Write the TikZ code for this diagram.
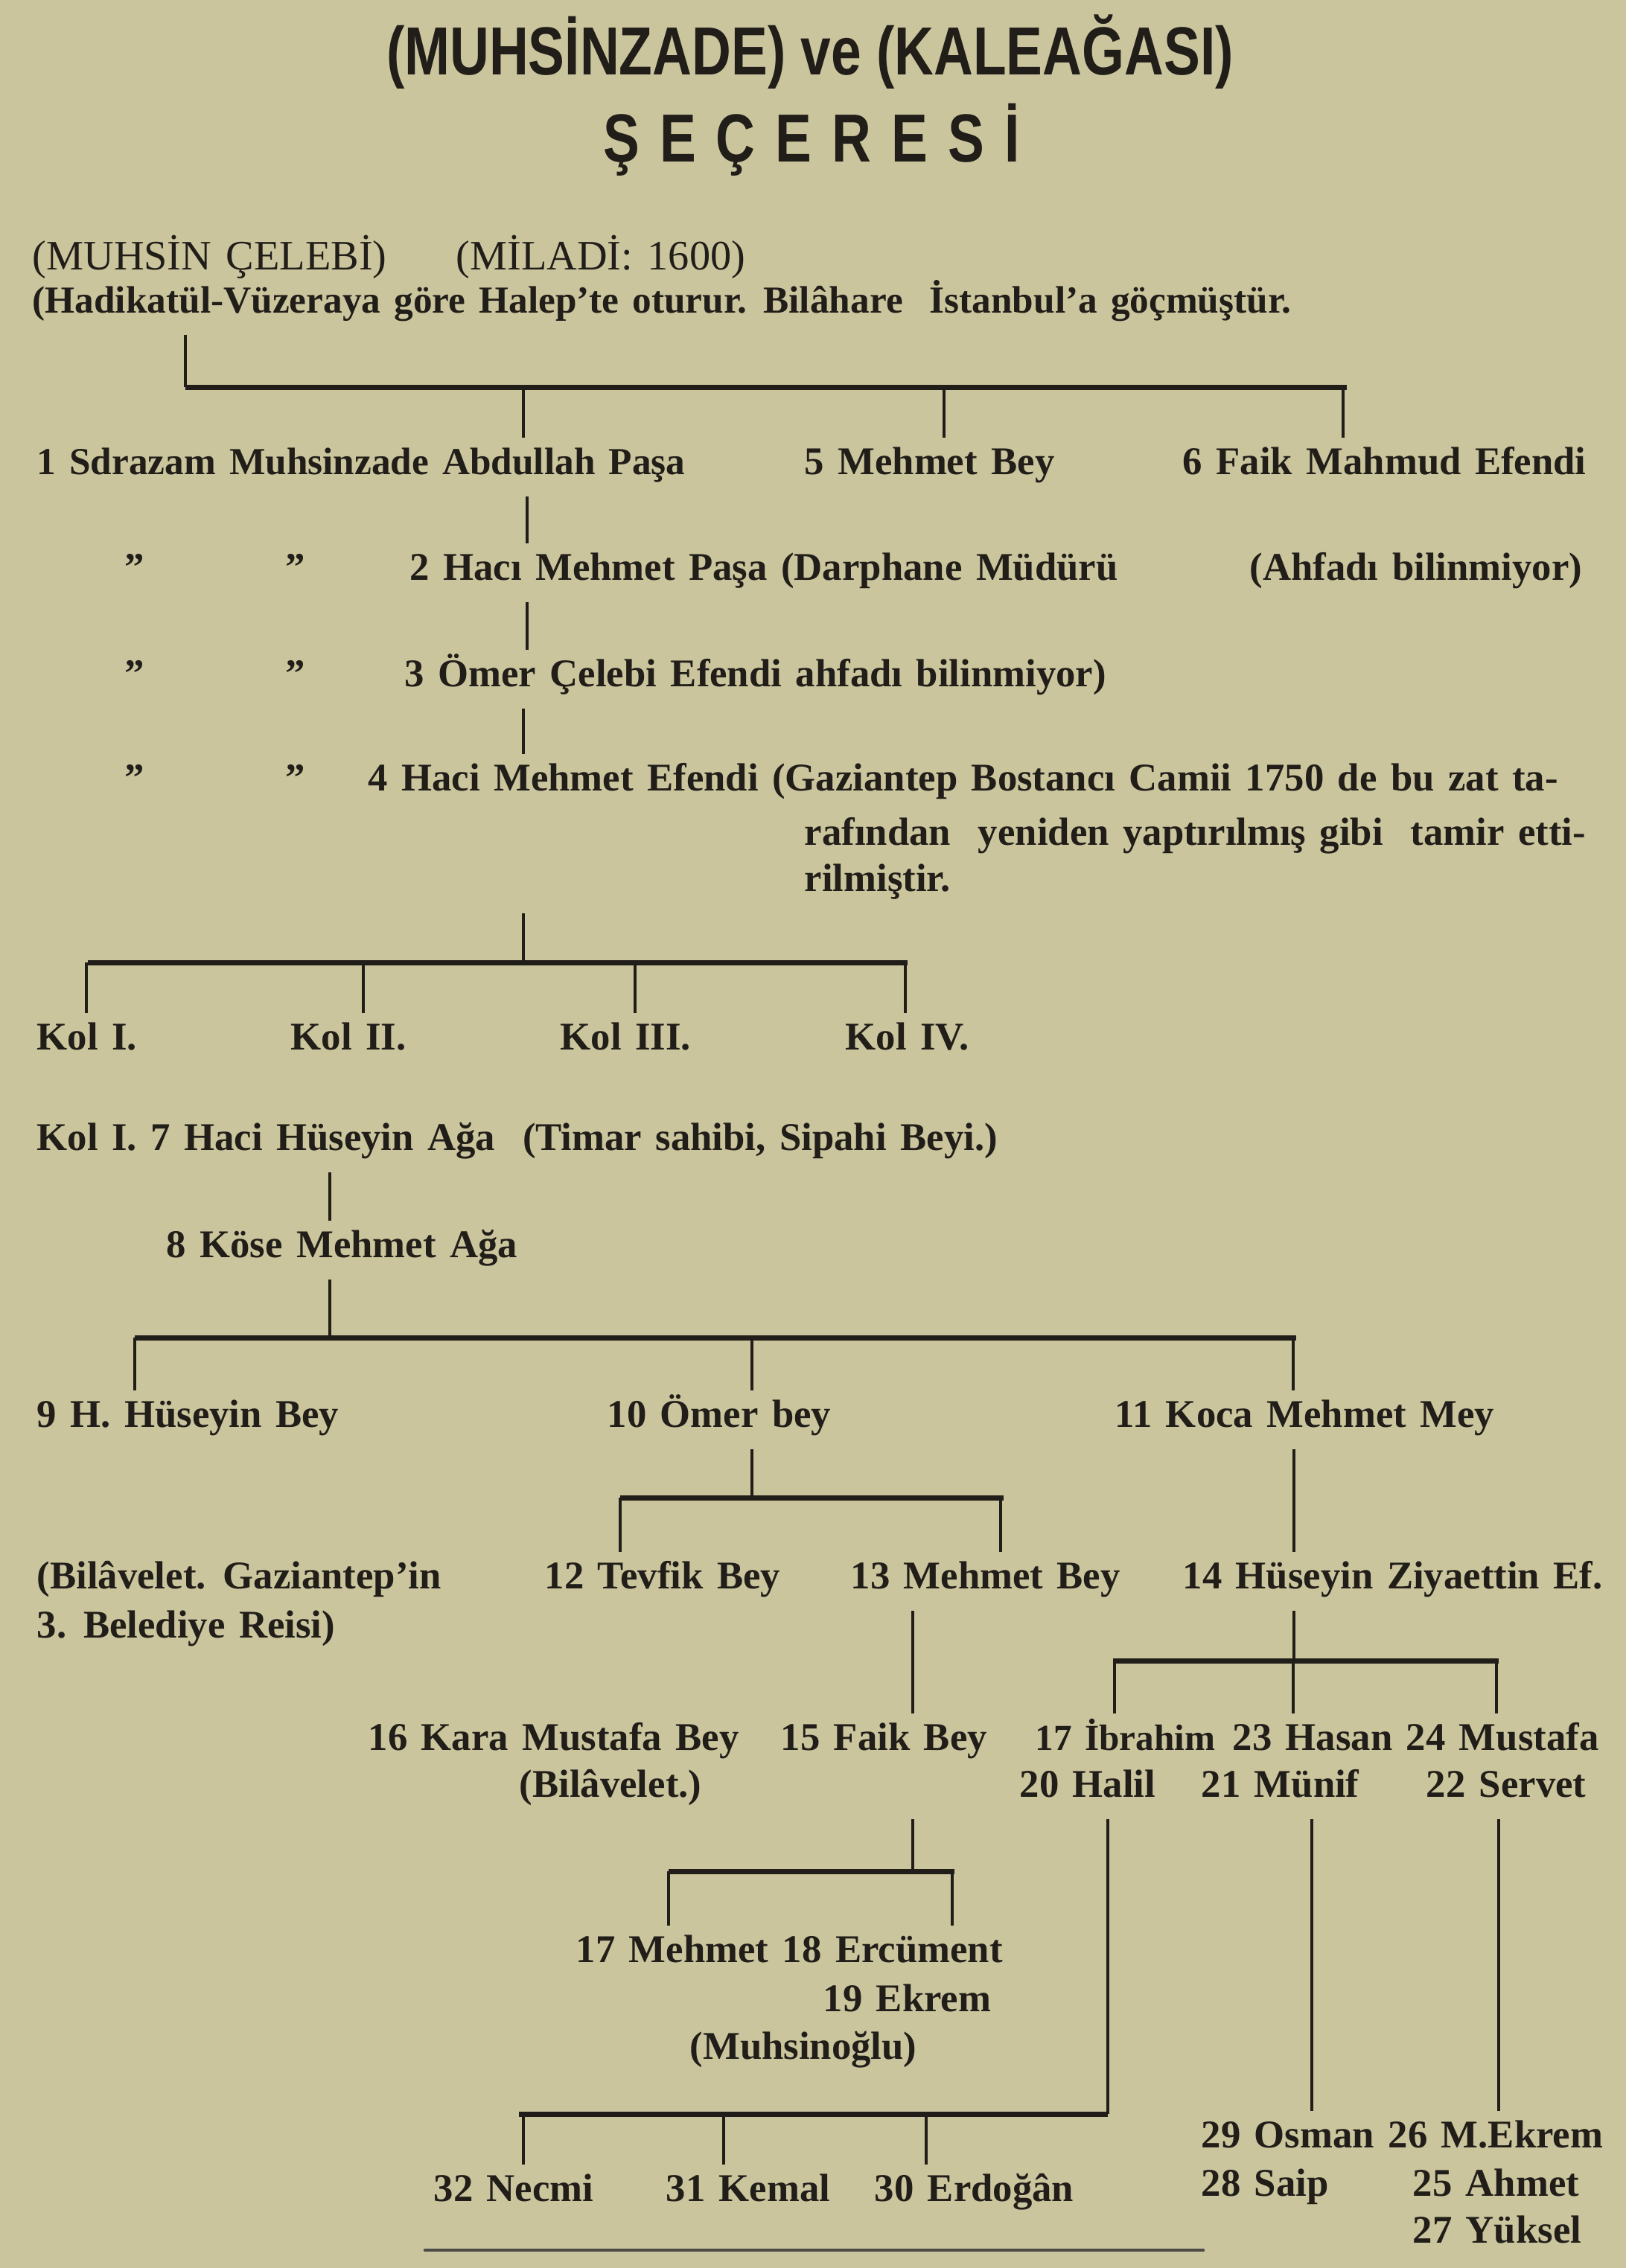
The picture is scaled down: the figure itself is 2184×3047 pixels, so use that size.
\documentclass[tikz,border=0pt]{standalone}
\usepackage{fontspec}
\usepackage{graphicx}
\setmainfont{Liberation Serif}[WordSpace=1.4]
\newfontfamily\headfam{Liberation Sans}
\usepackage{tikz}
\definecolor{paper}{RGB}{203,197,157}
\definecolor{ink}{RGB}{33,30,26}
\newcommand\entryfont{\fontsize{15}{18}\selectfont\bfseries}
\newcommand\plainfont{\fontsize{16}{19}\selectfont}
\newcommand\headfont{\fontsize{26}{30}\selectfont\headfam\bfseries}
\tikzset{
  entry/.style={anchor=base west, inner sep=0pt, text height=11pt,
                text depth=4pt, font=\entryfont, text=ink},
  tight/.style={font=\fontsize{14.6}{18}\selectfont\bfseries},
  heading/.style={anchor=base, inner sep=0pt, font=\headfont, text=ink},
  stem/.style={draw=ink, line width=1pt, shorten <=1.5mm, shorten >=1mm},
  tostem/.style={draw=ink, line width=1pt, shorten <=1.5mm},
  drop/.style={draw=ink, line width=1pt, shorten >=1mm},
  bar/.style={draw=ink, line width=2pt},
  rough/.style={draw=ink!80, line width=1.3pt, line cap=round},
}

\begin{document}
\begin{tikzpicture}[x=0.01cm, y=-0.01cm]
  \fill[paper] (0,0) rectangle (2184,3047);
  \useasboundingbox (0,0) rectangle (2184,3047);

  % title
  \node[heading] (title) at (1088,100) {\scalebox{0.8}[1]{(MUHSİNZADE) ve (KALEAĞASI)}};
  \node[heading] (secere) at (1090,217) {\scalebox{0.8}[1]{\spaceskip=0.37em\relax Ş E Ç E R E S İ}};

  % head of the family
  \node[entry, font=\plainfont] (celebi) at (43,362) {(MUHSİN ÇELEBİ)};
  \node[entry, font=\plainfont] (miladi) at (612,362) {(MİLADİ: 1600)};
  \node[entry, tight] (hadik) at (43,420) {(Hadikatül-Vüzeraya göre Halep’te oturur. Bilâhare\ \ İstanbul’a göçmüştür.};

  \coordinate (root) at (249,520);
  \draw[tostem] (root |- hadik.south) -- (root);
  \draw[bar] (root) -- (1809,520);

  \node[entry, tight] (r1a) at (49,637) {1 Sdrazam Muhsinzade Abdullah Paşa};
  \node[entry] (r1b) at (1080,637) {5 Mehmet Bey};
  \node[entry] (r1c) at (1588,637) {6 Faik Mahmud Efendi};
  \foreach \x/\n in {703/r1a,1268/r1b,1804/r1c}
    \draw[drop] (\x,520) -- (\x,520 |- \n.north);

  \node[entry] (q2a) at (167,779) {”};
  \node[entry] (q2b) at (383,779) {”};
  \node[entry] (r2a) at (550,779) {2 Hacı Mehmet Paşa (Darphane Müdürü};
  \node[entry] (r2b) at (1678,779) {(Ahfadı bilinmiyor)};
  \node[entry] (q3a) at (167,922) {”};
  \node[entry] (q3b) at (383,922) {”};
  \node[entry] (r3a) at (543,922) {3 Ömer Çelebi Efendi ahfadı bilinmiyor)};
  \node[entry] (q4a) at (167,1062) {”};
  \node[entry] (q4b) at (383,1062) {”};
  \node[entry] (r4a) at (494,1062) {4 Haci Mehmet Efendi (Gaziantep Bostancı Camii 1750 de bu zat ta-};
  \node[entry] (r4b) at (1080,1135) {rafından\ \ yeniden yaptırılmış gibi\ \ tamir etti-};
  \node[entry] (r4c) at (1080,1197) {rilmiştir.};
  \draw[stem] (708,0 |- r1a.south) -- (708,0 |- r2a.north);
  \draw[stem] (708,0 |- r2a.south) -- (708,0 |- r3a.north);
  \draw[stem] (703,0 |- r3a.south) -- (703,0 |- r4a.north);

  % the four branches
  \coordinate (kolbar) at (703,1293);
  \draw[tostem] (kolbar |- r4c.south) -- (kolbar);
  \draw[bar] (118,1293) -- (1219,1293);
  \node[entry] (k1) at (49,1410) {Kol I.};
  \node[entry] (k2) at (390,1410) {Kol II.};
  \node[entry] (k3) at (752,1410) {Kol III.};
  \node[entry] (k4) at (1135,1410) {Kol IV.};
  \foreach \x/\n in {116/k1,488/k2,853/k3,1216/k4}
    \draw[drop] (\x,1293) -- (\x,1293 |- \n.north);

  % Kol I
  \node[entry] (n7) at (49,1545) {Kol I. 7 Haci Hüseyin Ağa\ \ (Timar sahibi, Sipahi Beyi.)};
  \node[entry] (n8) at (223,1689) {8 Köse Mehmet Ağa};
  \draw[stem] (443,0 |- n7.south) -- (443,0 |- n8.north);
  \coordinate (bar8) at (443,1797);
  \draw[tostem] (bar8 |- n8.south) -- (bar8);
  \draw[bar] (181,1797) -- (1741,1797);
  \node[entry] (n9) at (49,1917) {9 H. Hüseyin Bey};
  \node[entry] (n10) at (815,1917) {10 Ömer bey};
  \node[entry] (n11) at (1497,1917) {11 Koca Mehmet Mey};
  \foreach \x/\n in {181/n9,1010/n10,1737/n11}
    \draw[drop] (\x,1797) -- (\x,1797 |- \n.north);

  \node[entry] (n9a) at (49,2134) {(Bilâvelet. Gaziantep’in};
  \node[entry] (n9b) at (49,2200) {3. Belediye Reisi)};
  \node[entry] (n12) at (731,2134) {12 Tevfik Bey};
  \node[entry] (n13) at (1142,2134) {13 Mehmet Bey};
  \node[entry] (n14) at (1588,2134) {14 Hüseyin Ziyaettin Ef.};
  \coordinate (bar10) at (1010,2012);
  \draw[tostem] (bar10 |- n10.south) -- (bar10);
  \draw[bar] (833,2012) -- (1348,2012);
  \foreach \x/\n in {833/n12,1344/n13}
    \draw[drop] (\x,2012) -- (\x,2012 |- \n.north);
  \draw[stem] (1738,0 |- n11.south) -- (1738,0 |- n14.north);

  \node[entry] (n16) at (494,2351) {16 Kara Mustafa Bey};
  \node[entry] (n15) at (1048,2351) {15 Faik Bey};
  \node[entry, font=\fontsize{14}{18}\selectfont\bfseries] (n17) at (1390,2351) {17 İbrahim};
  \node[entry] (n23) at (1655,2351) {23 Hasan};
  \node[entry] (n24) at (1888,2351) {24 Mustafa};
  \node[entry] (n16b) at (697,2414) {(Bilâvelet.)};
  \node[entry] (n20) at (1369,2414) {20 Halil};
  \node[entry] (n21) at (1613,2414) {21 Münif};
  \node[entry] (n22) at (1915,2414) {22 Servet};
  \draw[stem] (1226,0 |- n13.south) -- (1226,0 |- n15.north);
  \coordinate (bar14) at (1738,2231);
  \draw[tostem] (bar14 |- n14.south) -- (bar14);
  \draw[bar] (1495,2231) -- (2013,2231);
  \foreach \x/\n in {1497/n17,1737/n23,2010/n24}
    \draw[drop] (\x,2231) -- (\x,2231 |- \n.north);

  % children of 15 Faik Bey
  \coordinate (bar15) at (1226,2514);
  \draw[tostem] (bar15 |- n20.south) -- (bar15);
  \draw[bar] (898,2514) -- (1282,2514);
  \node[entry] (n18) at (773,2636) {17 Mehmet 18 Ercüment};
  \node[entry] (n19) at (1105,2702) {19 Ekrem};
  \node[entry] (n19b) at (926,2766) {(Muhsinoğlu)};
  \foreach \x in {898,1279}
    \draw[drop] (\x,2514) -- (\x,2514 |- n18.north);

  % children of 20 Halil
  \coordinate (bar20) at (1488,2840);
  \draw[tostem] (bar20 |- n20.south) -- (bar20);
  \draw[bar] (697,2840) -- (bar20);
  \node[entry] (n32) at (582,2957) {32 Necmi};
  \node[entry] (n31) at (894,2957) {31 Kemal};
  \node[entry] (n30) at (1174,2957) {30 Erdoğân};
  \foreach \x/\n in {703/n32,972/n31,1244/n30}
    \draw[drop] (\x,2840) -- (\x,2840 |- \n.north);

  % children of 21 Münif and 22 Servet
  \node[entry] (n29) at (1613,2885) {29 Osman};
  \node[entry] (n28) at (1613,2950) {28 Saip};
  \node[entry] (n26) at (1864,2885) {26 M.Ekrem};
  \node[entry] (n25) at (1897,2950) {25 Ahmet};
  \node[entry] (n27) at (1897,3013) {27 Yüksel};
  \draw[stem] (1762,0 |- n21.south) -- (1762,0 |- n29.north);
  \draw[stem] (2013,0 |- n22.south) -- (2013,0 |- n26.north);

  \coordinate (rulea) at (571,3023);
  \coordinate (ruleb) at (1616,3023);
  \draw[rough] (rulea) -- (ruleb);
\end{tikzpicture}
\end{document}
